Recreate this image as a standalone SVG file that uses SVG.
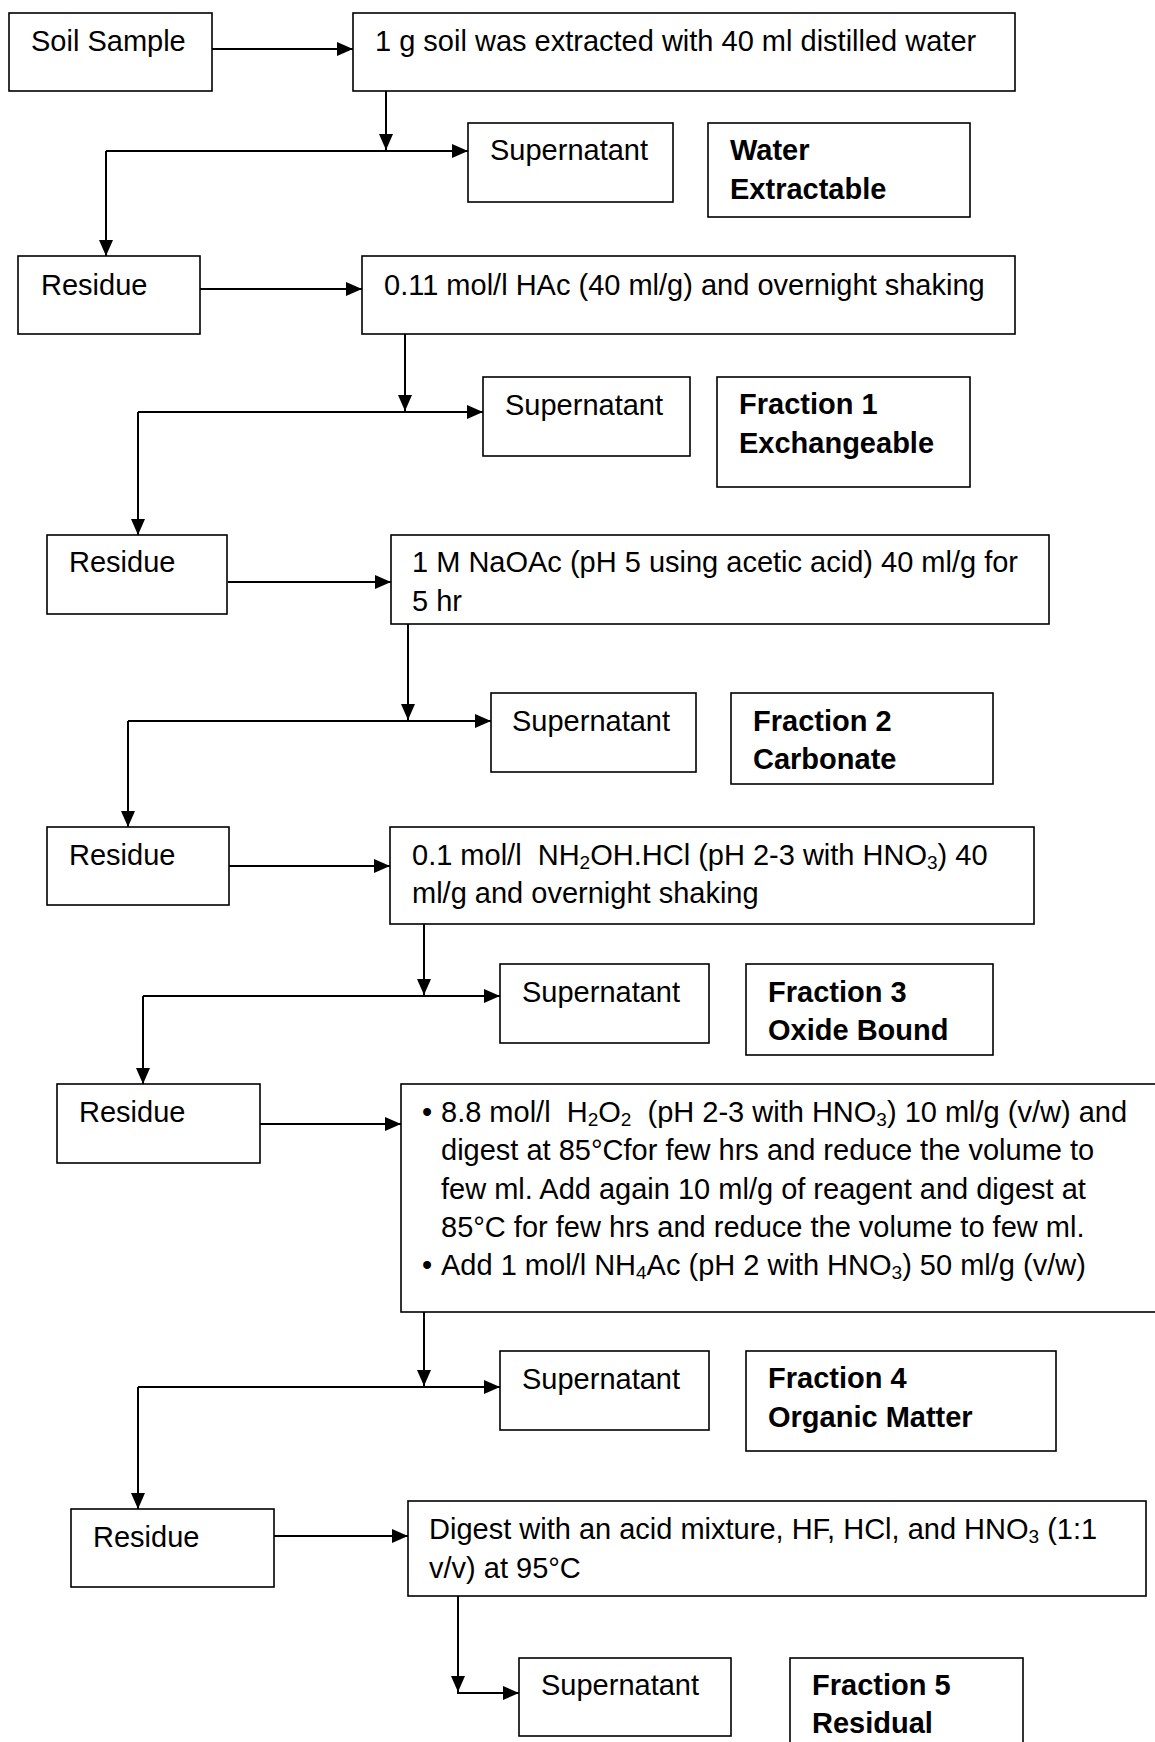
<svg xmlns="http://www.w3.org/2000/svg" width="1155" height="1742" viewBox="0 0 1155 1742">
<style>
rect.box{fill:#fff;stroke:#000;stroke-width:1.6}
text{font-family:"Liberation Sans",Arial,sans-serif;font-size:29px;fill:#000;white-space:pre}
text.b{font-weight:bold}
tspan.sub{font-size:19px}
.conn path{fill:none;stroke:#000;stroke-width:2}
.conn path.a{marker-end:url(#ah)}
</style>
<defs>
<marker id="ah" markerUnits="userSpaceOnUse" markerWidth="16" markerHeight="14" refX="16" refY="7" orient="auto">
<path d="M0,0 L16,7 L0,14 z" fill="#000"/>
</marker>
</defs>
<rect width="1155" height="1742" fill="#fff"/>

<g class="conn" id="connectors">
<path class="a" d="M212,49 H353"/>
<path class="a" d="M386,91 V150"/>
<path class="a" d="M106,151 H468"/>
<path class="a" d="M106,151 V256"/>
<path class="a" d="M200,289 H362"/>
<path class="a" d="M405,334 V411"/>
<path class="a" d="M138,412 H483"/>
<path class="a" d="M138,412 V535"/>
<path class="a" d="M228,582 H391"/>
<path class="a" d="M408,624 V720"/>
<path class="a" d="M128,721 H491"/>
<path class="a" d="M128,721 V827"/>
<path class="a" d="M229,866 H390"/>
<path class="a" d="M424,924 V995"/>
<path class="a" d="M143,996 H500"/>
<path class="a" d="M143,996 V1084"/>
<path class="a" d="M260,1124 H401"/>
<path class="a" d="M424,1312 V1386"/>
<path class="a" d="M138,1387 H500"/>
<path class="a" d="M138,1387 V1509"/>
<path class="a" d="M274,1536 H408"/>
<path class="a" d="M458,1596 V1692"/>
<path class="a" d="M457,1693 H519"/>
</g>

<g id="soil"><rect class="box" x="9" y="13" width="203" height="78"/><text x="31" y="51">Soil Sample</text></g>
<g id="step0"><rect class="box" x="353" y="13" width="662" height="78"/><text x="375" y="51">1 g soil was extracted with 40 ml distilled water</text></g>
<g id="sup0"><rect class="box" x="468" y="123" width="205" height="79"/><text x="490" y="160">Supernatant</text></g>
<g id="water"><rect class="box" x="708" y="123" width="262" height="94"/><text class="b" x="730" y="160">Water</text><text class="b" x="730" y="199">Extractable</text></g>

<g id="res1"><rect class="box" x="18" y="256" width="182" height="78"/><text x="41" y="295">Residue</text></g>
<g id="step1"><rect class="box" x="362" y="256" width="653" height="78"/><text x="384" y="295">0.11 mol/l HAc (40 ml/g) and overnight shaking</text></g>
<g id="sup1"><rect class="box" x="483" y="377" width="207" height="79"/><text x="505" y="415">Supernatant</text></g>
<g id="frac1"><rect class="box" x="717" y="377" width="253" height="110"/><text class="b" x="739" y="414">Fraction 1</text><text class="b" x="739" y="453">Exchangeable</text></g>

<g id="res2"><rect class="box" x="47" y="535" width="180" height="79"/><text x="69" y="572">Residue</text></g>
<g id="step2"><rect class="box" x="391" y="535" width="658" height="89"/><text x="412" y="572">1 M NaOAc (pH 5 using acetic acid) 40 ml/g for</text><text x="412" y="611">5 hr</text></g>
<g id="sup2"><rect class="box" x="491" y="693" width="205" height="79"/><text x="512" y="731">Supernatant</text></g>
<g id="frac2"><rect class="box" x="731" y="693" width="262" height="91"/><text class="b" x="753" y="731">Fraction 2</text><text class="b" x="753" y="769">Carbonate</text></g>

<g id="res3"><rect class="box" x="47" y="827" width="182" height="78"/><text x="69" y="865">Residue</text></g>
<g id="step3"><rect class="box" x="390" y="827" width="644" height="97"/><text x="412" y="865">0.1 mol/l  NH<tspan class="sub" dy="4">2</tspan><tspan dy="-4">OH.HCl (pH 2-3 with HNO</tspan><tspan class="sub" dy="4">3</tspan><tspan dy="-4">) 40</tspan></text><text x="412" y="903">ml/g and overnight shaking</text></g>
<g id="sup3"><rect class="box" x="500" y="964" width="209" height="79"/><text x="522" y="1002">Supernatant</text></g>
<g id="frac3"><rect class="box" x="746" y="964" width="247" height="91"/><text class="b" x="768" y="1002">Fraction 3</text><text class="b" x="768" y="1040">Oxide Bound</text></g>

<g id="res4"><rect class="box" x="57" y="1084" width="203" height="79"/><text x="79" y="1122">Residue</text></g>
<g id="step4"><rect class="box" x="401" y="1084" width="770" height="228"/>
<text x="422" y="1122">•</text><text x="441" y="1122">8.8 mol/l  H<tspan class="sub" dy="4">2</tspan><tspan dy="-4">O</tspan><tspan class="sub" dy="4">2</tspan><tspan dy="-4">  (pH 2-3 with HNO</tspan><tspan class="sub" dy="4">3</tspan><tspan dy="-4">) 10 ml/g (v/w) and</tspan></text>
<text x="441" y="1160">digest at 85°Cfor few hrs and reduce the volume to</text>
<text x="441" y="1199">few ml. Add again 10 ml/g of reagent and digest at</text>
<text x="441" y="1237">85°C for few hrs and reduce the volume to few ml.</text>
<text x="422" y="1275">•</text><text x="441" y="1275">Add 1 mol/l NH<tspan class="sub" dy="4">4</tspan><tspan dy="-4">Ac (pH 2 with HNO</tspan><tspan class="sub" dy="4">3</tspan><tspan dy="-4">) 50 ml/g (v/w)</tspan></text>
</g>
<g id="sup4"><rect class="box" x="500" y="1351" width="209" height="79"/><text x="522" y="1389">Supernatant</text></g>
<g id="frac4"><rect class="box" x="746" y="1351" width="310" height="100"/><text class="b" x="768" y="1388">Fraction 4</text><text class="b" x="768" y="1427">Organic Matter</text></g>

<g id="res5"><rect class="box" x="71" y="1509" width="203" height="78"/><text x="93" y="1547">Residue</text></g>
<g id="step5"><rect class="box" x="408" y="1501" width="738" height="95"/><text x="429" y="1539">Digest with an acid mixture, HF, HCl, and HNO<tspan class="sub" dy="4">3</tspan><tspan dy="-4"> (1:1</tspan></text><text x="429" y="1578">v/v) at 95°C</text></g>
<g id="sup5"><rect class="box" x="519" y="1658" width="212" height="78"/><text x="541" y="1695">Supernatant</text></g>
<g id="frac5"><rect class="box" x="790" y="1658" width="233" height="120"/><text class="b" x="812" y="1695">Fraction 5</text><text class="b" x="812" y="1733">Residual</text></g>
</svg>
